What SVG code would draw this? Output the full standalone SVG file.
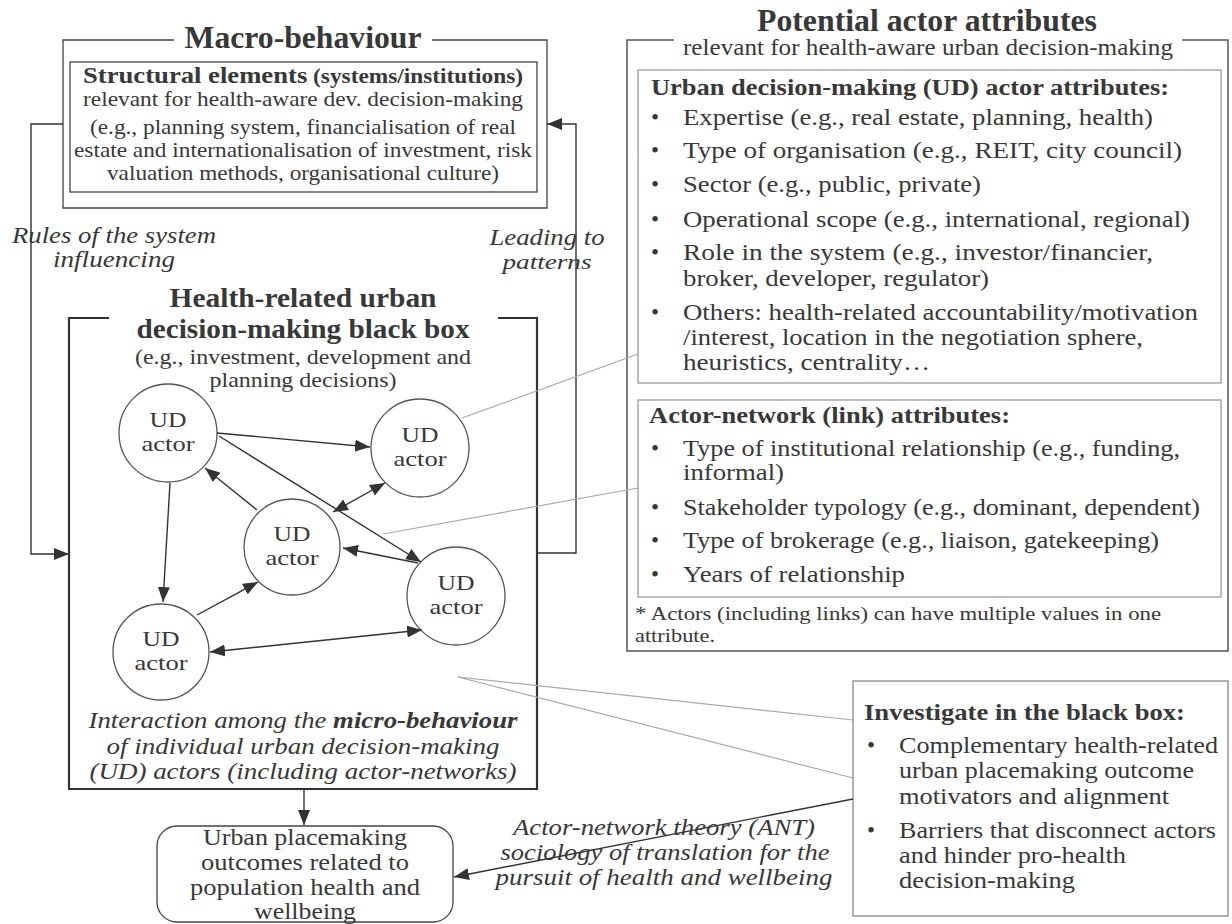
<svg xmlns="http://www.w3.org/2000/svg" width="1232" height="924" viewBox="0 0 1232 924">
<defs>
<style>
text{font-family:"Liberation Serif","Times New Roman",serif;fill:#383838;}
.t{font-size:31px;font-weight:bold;}
.h{font-size:24px;font-weight:bold;}
.b{font-size:21px;}
.s{font-size:22px;}
.i{font-size:23px;font-style:italic;}
.n{font-size:23px;}
.f{font-size:19px;}
.c{text-anchor:middle;}
.box{fill:none;stroke:#444;stroke-width:1.3;}
.gbox{fill:none;stroke:#9a9a9a;stroke-width:1.3;}
.node{fill:#fff;stroke:#555;stroke-width:1.3;}
.ln{fill:none;stroke:#333;stroke-width:1.4;}
.call{fill:none;stroke:#aaa;stroke-width:1.2;}
</style>
<marker id="ah" viewBox="0 0 15 12" refX="15" refY="6" markerWidth="15" markerHeight="12" markerUnits="userSpaceOnUse" orient="auto-start-reverse"><path d="M0,0 L15,6 L0,12 z" fill="#333"/></marker>
</defs>
<rect width="1232" height="924" fill="#fff"/>

<g id="macro">
<path class="box" d="M174,40 H63 V208 H547 V40 H432"/>
<text class="t c" x="303" y="48" textLength="237" lengthAdjust="spacingAndGlyphs">Macro-behaviour</text>
<rect class="box" x="70" y="62" width="467" height="130"/>
<text class="c" x="303" y="83" textLength="440" lengthAdjust="spacingAndGlyphs"><tspan style="font-size:24px;font-weight:bold">Structural elements</tspan><tspan style="font-size:21px;font-weight:bold"> (systems/institutions)</tspan></text>
<text class="s c" x="303" y="106" textLength="440" lengthAdjust="spacingAndGlyphs">relevant for health-aware dev. decision-making</text>
<text class="s c" x="303" y="134" textLength="426" lengthAdjust="spacingAndGlyphs">(e.g., planning system, financialisation of real</text>
<text class="s c" x="303" y="157" textLength="458" lengthAdjust="spacingAndGlyphs">estate and internationalisation of investment, risk</text>
<text class="s c" x="303" y="180" textLength="392" lengthAdjust="spacingAndGlyphs">valuation methods, organisational culture)</text>
</g>

<g id="blackbox">
<path fill="none" stroke="#333" stroke-width="2.2" d="M109,318 H69 V789 H537 V318 H498"/>
<text class="c" x="303" y="307" style="font-size:27px;font-weight:bold" textLength="267" lengthAdjust="spacingAndGlyphs">Health-related urban</text>
<text class="c" x="303" y="338" style="font-size:27px;font-weight:bold" textLength="333" lengthAdjust="spacingAndGlyphs">decision-making black box</text>
<text class="s c" x="303" y="364" textLength="336" lengthAdjust="spacingAndGlyphs">(e.g., investment, development and</text>
<text class="c" style="font-size:21px" x="303" y="387" textLength="187" lengthAdjust="spacingAndGlyphs">planning decisions)</text>
<text class="i c" x="303" y="728" textLength="429" lengthAdjust="spacingAndGlyphs">Interaction among the <tspan font-weight="bold">micro-behaviour</tspan></text>
<text class="i c" x="303" y="754" textLength="393" lengthAdjust="spacingAndGlyphs">of individual urban decision-making</text>
<text class="i c" x="303" y="779" textLength="427" lengthAdjust="spacingAndGlyphs">(UD) actors (including actor-networks)</text>
</g>

<g id="actor1"><circle class="node" cx="168" cy="433" r="49"/><text class="b c" x="168" y="427" textLength="37" lengthAdjust="spacingAndGlyphs">UD</text><text class="b c" x="168" y="451" textLength="53" lengthAdjust="spacingAndGlyphs">actor</text></g>
<g id="actor2"><circle class="node" cx="420" cy="448" r="49"/><text class="b c" x="420" y="442" textLength="37" lengthAdjust="spacingAndGlyphs">UD</text><text class="b c" x="420" y="466" textLength="53" lengthAdjust="spacingAndGlyphs">actor</text></g>
<g id="actor3"><circle class="node" cx="292" cy="547" r="48"/><text class="b c" x="292" y="541" textLength="37" lengthAdjust="spacingAndGlyphs">UD</text><text class="b c" x="292" y="565" textLength="53" lengthAdjust="spacingAndGlyphs">actor</text></g>
<g id="actor4"><circle class="node" cx="456" cy="596" r="49"/><text class="b c" x="456" y="590" textLength="37" lengthAdjust="spacingAndGlyphs">UD</text><text class="b c" x="456" y="614" textLength="53" lengthAdjust="spacingAndGlyphs">actor</text></g>
<g id="actor5"><circle class="node" cx="161" cy="652" r="48"/><text class="b c" x="161" y="646" textLength="37" lengthAdjust="spacingAndGlyphs">UD</text><text class="b c" x="161" y="670" textLength="53" lengthAdjust="spacingAndGlyphs">actor</text></g>

<g id="outcome">
<rect class="box" x="157" y="826" width="296" height="96" rx="20"/>
<text class="n c" x="305" y="845" textLength="204" lengthAdjust="spacingAndGlyphs">Urban placemaking</text>
<text class="n c" x="305" y="870" textLength="208" lengthAdjust="spacingAndGlyphs">outcomes related to</text>
<text class="n c" x="305" y="895" textLength="230" lengthAdjust="spacingAndGlyphs">population health and</text>
<text class="n c" x="305" y="919" textLength="102" lengthAdjust="spacingAndGlyphs">wellbeing</text>
</g>

<g id="attributes">
<path fill="none" stroke="#555" stroke-width="1.5" d="M674,40 H627 V651 H1228 V40 H1182"/>
<text class="t c" x="927" y="31" textLength="340" lengthAdjust="spacingAndGlyphs">Potential actor attributes</text>
<text class="n c" x="928" y="55" textLength="490" lengthAdjust="spacingAndGlyphs">relevant for health-aware urban decision-making</text>
<rect class="gbox" x="638" y="70" width="583" height="313"/>
<text class="h" x="651" y="95" textLength="518" lengthAdjust="spacingAndGlyphs">Urban decision-making (UD) actor attributes:</text>
<g class="n">
<text x="651" y="125">•</text><text x="683" y="125" textLength="470" lengthAdjust="spacingAndGlyphs">Expertise (e.g., real estate, planning, health)</text>
<text x="651" y="158">•</text><text x="683" y="158" textLength="499" lengthAdjust="spacingAndGlyphs">Type of organisation (e.g., REIT, city council)</text>
<text x="651" y="192">•</text><text x="683" y="192" textLength="298" lengthAdjust="spacingAndGlyphs">Sector (e.g., public, private)</text>
<text x="651" y="227">•</text><text x="683" y="227" textLength="507" lengthAdjust="spacingAndGlyphs">Operational scope (e.g., international, regional)</text>
<text x="651" y="260">•</text><text x="683" y="260" textLength="470" lengthAdjust="spacingAndGlyphs">Role in the system (e.g., investor/financier,</text>
<text x="683" y="286" textLength="306" lengthAdjust="spacingAndGlyphs">broker, developer, regulator)</text>
<text x="651" y="320">•</text><text x="683" y="320" textLength="515" lengthAdjust="spacingAndGlyphs">Others: health-related accountability/motivation</text>
<text x="683" y="345" textLength="460" lengthAdjust="spacingAndGlyphs">/interest, location in the negotiation sphere,</text>
<text x="683" y="370" textLength="247" lengthAdjust="spacingAndGlyphs">heuristics, centrality…</text>
</g>
<rect class="gbox" x="638" y="400" width="583" height="197"/>
<text class="h" x="649" y="423" textLength="361" lengthAdjust="spacingAndGlyphs">Actor-network (link) attributes:</text>
<g class="n">
<text x="651" y="456">•</text><text x="683" y="456" textLength="497" lengthAdjust="spacingAndGlyphs">Type of institutional relationship (e.g., funding,</text>
<text x="683" y="480" textLength="101" lengthAdjust="spacingAndGlyphs">informal)</text>
<text x="651" y="515">•</text><text x="683" y="515" textLength="517" lengthAdjust="spacingAndGlyphs">Stakeholder typology (e.g., dominant, dependent)</text>
<text x="651" y="548">•</text><text x="683" y="548" textLength="476" lengthAdjust="spacingAndGlyphs">Type of brokerage (e.g., liaison, gatekeeping)</text>
<text x="651" y="582">•</text><text x="683" y="582" textLength="222" lengthAdjust="spacingAndGlyphs">Years of relationship</text>
</g>
<text class="f" x="635" y="620" textLength="526" lengthAdjust="spacingAndGlyphs">* Actors (including links) can have multiple values in one</text>
<text class="f" x="635" y="642" textLength="80" lengthAdjust="spacingAndGlyphs">attribute.</text>
</g>

<g id="investigate">
<rect x="853" y="681" width="375" height="235" fill="none" stroke="#888" stroke-width="1.3"/>
<text class="h" x="864" y="720" textLength="321" lengthAdjust="spacingAndGlyphs">Investigate in the black box:</text>
<g class="n">
<text x="867" y="753">•</text><text x="899" y="753" textLength="319" lengthAdjust="spacingAndGlyphs">Complementary health-related</text>
<text x="899" y="778" textLength="295" lengthAdjust="spacingAndGlyphs">urban placemaking outcome</text>
<text x="899" y="804" textLength="270" lengthAdjust="spacingAndGlyphs">motivators and alignment</text>
<text x="867" y="838">•</text><text x="899" y="838" textLength="317" lengthAdjust="spacingAndGlyphs">Barriers that disconnect actors</text>
<text x="899" y="863" textLength="227" lengthAdjust="spacingAndGlyphs">and hinder pro-health</text>
<text x="899" y="888" textLength="176" lengthAdjust="spacingAndGlyphs">decision-making</text>
</g>
</g>

<g id="connectors">
<path class="ln" d="M63,124 H31 V554 H69" marker-end="url(#ah)"/>
<path class="ln" d="M537,553 H576 V124 H547" marker-end="url(#ah)"/>
<line class="ln" x1="217" y1="433" x2="370" y2="447" marker-end="url(#ah)"/>
<line class="ln" x1="219" y1="436" x2="421" y2="562" marker-end="url(#ah)"/>
<line class="ln" x1="257" y1="510" x2="205" y2="468" marker-end="url(#ah)"/>
<line class="ln" x1="333" y1="512" x2="385" y2="483" marker-start="url(#ah)" marker-end="url(#ah)"/>
<line class="ln" x1="418" y1="563" x2="343" y2="548" marker-end="url(#ah)"/>
<line class="ln" x1="170" y1="483" x2="163" y2="602" marker-end="url(#ah)"/>
<line class="ln" x1="197" y1="615" x2="258" y2="582" marker-end="url(#ah)"/>
<line class="ln" x1="210" y1="652" x2="422" y2="630" marker-start="url(#ah)" marker-end="url(#ah)"/>
<line class="ln" x1="304" y1="789" x2="304" y2="825" marker-end="url(#ah)"/>
<line class="ln" x1="853" y1="799" x2="454" y2="877" marker-end="url(#ah)"/>
<line class="call" x1="462" y1="418" x2="638" y2="354"/>
<line class="call" x1="383" y1="534" x2="638" y2="488"/>
<path class="call" d="M853,720 L458,677 L853,778"/>
</g>

<g id="labels">
<text class="i c" x="114" y="243" textLength="204" lengthAdjust="spacingAndGlyphs">Rules of the system</text>
<text class="i c" x="114" y="267" textLength="122" lengthAdjust="spacingAndGlyphs">influencing</text>
<text class="i c" x="547" y="245" textLength="115" lengthAdjust="spacingAndGlyphs">Leading to</text>
<text class="i c" style="font-size:22px" x="547" y="269" textLength="89" lengthAdjust="spacingAndGlyphs">patterns</text>
<text class="i c" x="664" y="835" textLength="302" lengthAdjust="spacingAndGlyphs">Actor-network theory (ANT)</text>
<text class="i c" x="665" y="860" textLength="329" lengthAdjust="spacingAndGlyphs">sociology of translation for the</text>
<text class="i c" x="664" y="885" textLength="337" lengthAdjust="spacingAndGlyphs">pursuit of health and wellbeing</text>
</g>
</svg>
